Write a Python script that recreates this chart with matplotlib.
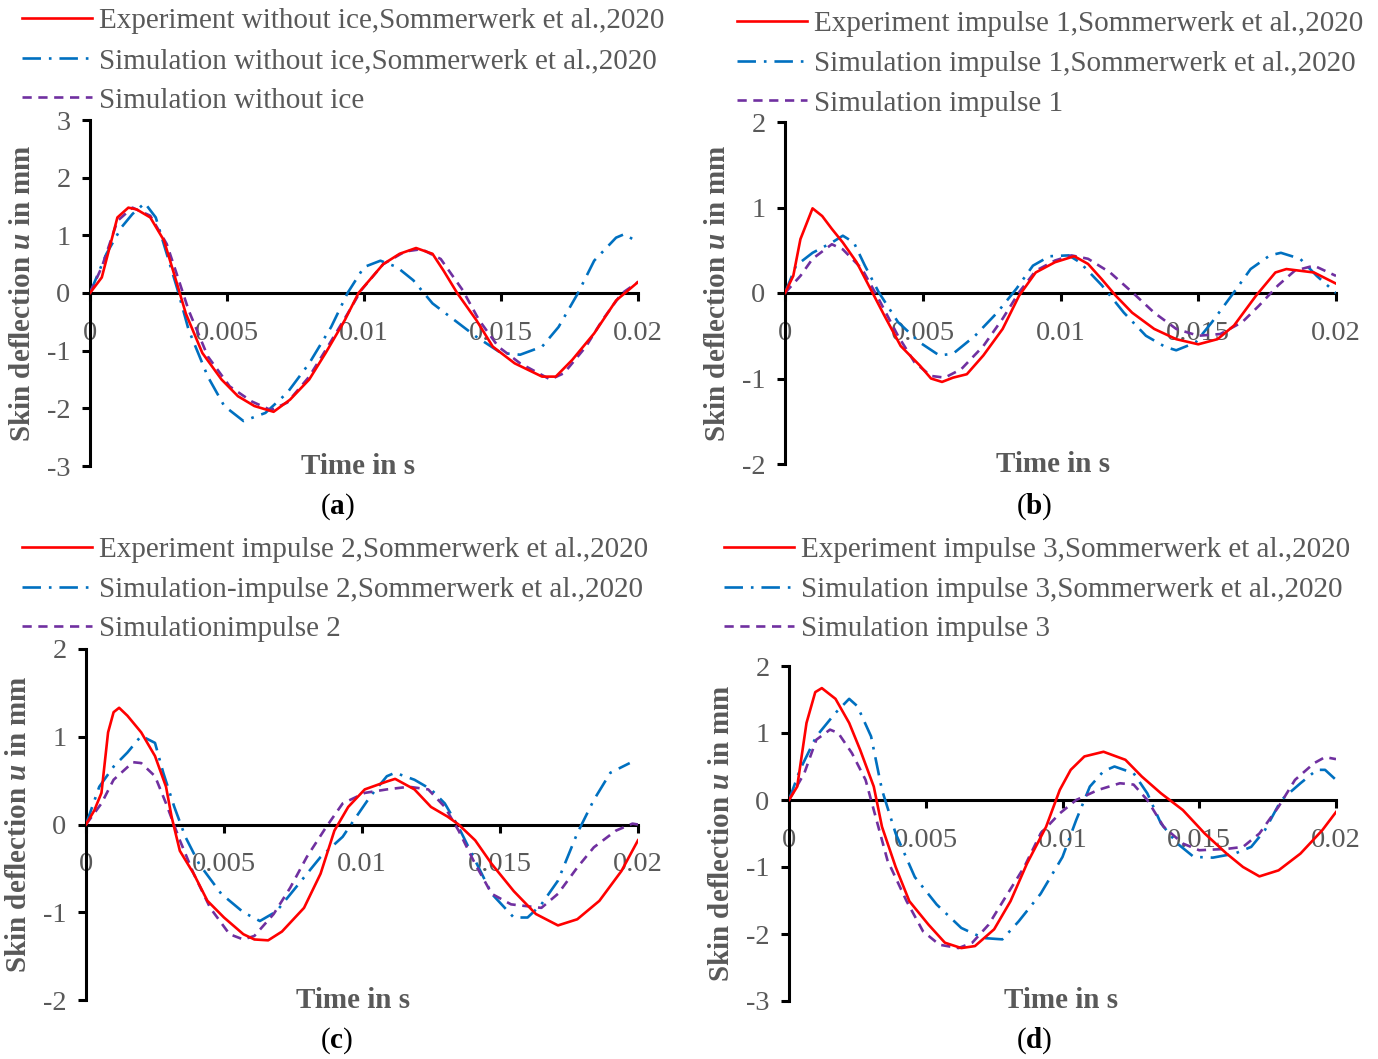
import matplotlib
matplotlib.use("Agg")
import matplotlib.pyplot as plt
from matplotlib.lines import Line2D

plt.rcParams["font.family"] = "Liberation Serif"
plt.rcParams["axes.unicode_minus"] = False
plt.rcParams["mathtext.fontset"] = "custom"
plt.rcParams["mathtext.rm"] = "Liberation Serif"
plt.rcParams["mathtext.it"] = "Liberation Serif:italic:bold"
plt.rcParams["mathtext.bf"] = "Liberation Serif:bold"

# ---- (a) without ice ----
t_a_exp = [0, 0.00043, 0.001, 0.0014, 0.0017, 0.0022, 0.0027, 0.0031, 0.0035, 0.0041, 0.0048, 0.0054,
           0.006, 0.0067, 0.0073, 0.008, 0.0086, 0.0093, 0.0098, 0.0107, 0.0113, 0.0119, 0.0125, 0.0129,
           0.0134, 0.0141, 0.0147, 0.0155, 0.0165, 0.017, 0.0176, 0.0184, 0.0192, 0.02]
u_a_exp = [0, 0.27, 1.31, 1.48, 1.45, 1.31, 0.91, 0.28, -0.36, -1.04, -1.50, -1.79,
           -1.96, -2.06, -1.85, -1.50, -1.04, -0.47, 0, 0.50, 0.68, 0.78, 0.68, 0.39,
           0, -0.47, -0.93, -1.22, -1.45, -1.45, -1.16, -0.70, -0.13, 0.19]
t_a_ref = [0, 0.0006, 0.00115, 0.00155, 0.002, 0.0024, 0.0028, 0.0032, 0.0036, 0.0043, 0.0049, 0.0056,
           0.0064, 0.0072, 0.008, 0.0088, 0.0094, 0.01, 0.0106, 0.0112, 0.0118, 0.0125, 0.0133, 0.0141,
           0.015, 0.0157, 0.0165, 0.0171, 0.0178, 0.0184, 0.0192, 0.0195, 0.02]
u_a_ref = [0, 0.68, 1.14, 1.37, 1.56, 1.31, 0.68, 0.05, -0.64, -1.45, -1.96, -2.22,
           -2.08, -1.73, -1.22, -0.59, 0, 0.45, 0.56, 0.45, 0.22, -0.18, -0.47, -0.76,
           -1.04, -1.07, -0.93, -0.59, -0.01, 0.56, 0.96, 1.02, 0.88]
t_a_sim = [0, 0.00043, 0.001, 0.00155, 0.0022, 0.0028, 0.0032, 0.0036, 0.0043, 0.0051, 0.0059, 0.0066,
           0.0072, 0.008, 0.0086, 0.0094, 0.0099, 0.0107, 0.0115, 0.0121, 0.0128, 0.0136, 0.0142, 0.0149,
           0.0157, 0.0168, 0.0173, 0.0181, 0.0187, 0.0194, 0.02]
u_a_sim = [0, 0.45, 1.25, 1.48, 1.34, 0.85, 0.28, -0.30, -1.10, -1.62, -1.88, -2.03,
           -1.90, -1.45, -0.99, -0.36, 0.05, 0.50, 0.72, 0.76, 0.59, 0.05, -0.47, -0.93,
           -1.22, -1.50, -1.39, -0.93, -0.47, -0.01, 0.19]

# ---- (b) impulse 1 ----
t_b_exp = [0, 0.0003, 0.00056, 0.001, 0.00135, 0.0017, 0.0021, 0.0026, 0.0031, 0.0036, 0.0042, 0.0049,
           0.0053, 0.0057, 0.0061, 0.0066, 0.0072, 0.0079, 0.0085, 0.0091, 0.0098, 0.0105, 0.011, 0.0115,
           0.012, 0.0126, 0.0134, 0.0142, 0.015, 0.0157, 0.0163, 0.0171, 0.0178, 0.0182, 0.0192, 0.02]
u_b_exp = [0, 0.20, 0.63, 0.99, 0.90, 0.75, 0.59, 0.36, 0.05, -0.26, -0.62, -0.85,
           -1.00, -1.04, -0.99, -0.95, -0.73, -0.42, -0.03, 0.24, 0.36, 0.43, 0.34, 0.16,
           -0.03, -0.23, -0.42, -0.54, -0.60, -0.54, -0.38, -0.03, 0.24, 0.28, 0.24, 0.11]
t_b_ref = [0, 0.0004, 0.001, 0.0017, 0.0021, 0.0025, 0.0029, 0.0034, 0.0041, 0.0049, 0.0056, 0.0061,
           0.0069, 0.0077, 0.0084, 0.009, 0.0096, 0.0103, 0.0107, 0.0115, 0.0123, 0.0131, 0.0138, 0.0142,
           0.0149, 0.0155, 0.0163, 0.0169, 0.0176, 0.018, 0.0187, 0.0193, 0.02]
u_b_ref = [0, 0.32, 0.47, 0.59, 0.67, 0.59, 0.32, 0.01, -0.34, -0.58, -0.73, -0.71,
           -0.50, -0.23, 0.05, 0.32, 0.43, 0.44, 0.36, 0.09, -0.23, -0.50, -0.63, -0.67,
           -0.58, -0.34, 0.01, 0.28, 0.44, 0.47, 0.40, 0.20, 0.0]
t_b_sim = [0, 0.00056, 0.001, 0.0017, 0.0021, 0.0028, 0.0034, 0.0041, 0.0047, 0.0053, 0.0058, 0.0064,
           0.0072, 0.0079, 0.0085, 0.0091, 0.0098, 0.0104, 0.011, 0.0118, 0.0126, 0.0134, 0.0142, 0.015,
           0.0158, 0.0166, 0.0172, 0.0179, 0.0185, 0.0192, 0.02]
u_b_sim = [0, 0.20, 0.40, 0.57, 0.51, 0.28, -0.07, -0.50, -0.81, -0.97, -0.99, -0.89,
           -0.62, -0.30, 0.01, 0.26, 0.38, 0.44, 0.40, 0.24, 0.01, -0.23, -0.42, -0.50,
           -0.48, -0.34, -0.15, 0.09, 0.26, 0.32, 0.20]

# ---- (c) impulse 2 ----
t_c_exp = [0, 0.0003, 0.00056, 0.0008, 0.001, 0.0012, 0.0015, 0.002, 0.0025, 0.0029, 0.0031, 0.0034,
           0.0039, 0.0044, 0.005, 0.0057, 0.0061, 0.0066, 0.0071, 0.0079, 0.0085, 0.009, 0.0095, 0.0101,
           0.0109, 0.0112, 0.0119, 0.0125, 0.0131, 0.0135, 0.0141, 0.0147, 0.0155, 0.0163, 0.0171, 0.0178,
           0.0186, 0.0194, 0.02]
u_c_exp = [0, 0.16, 0.36, 1.05, 1.28, 1.33, 1.24, 1.05, 0.78, 0.43, 0.09, -0.30,
           -0.56, -0.87, -1.06, -1.25, -1.31, -1.32, -1.22, -0.95, -0.56, -0.07, 0.20, 0.40,
           0.49, 0.52, 0.40, 0.20, 0.09, 0, -0.18, -0.45, -0.76, -1.02, -1.15, -1.08,
           -0.87, -0.53, -0.18]
t_c_ref = [0, 0.00048, 0.001, 0.0015, 0.002, 0.0025, 0.0028, 0.0032, 0.0036, 0.0041, 0.0049, 0.0057,
           0.0063, 0.0069, 0.0077, 0.0085, 0.0093, 0.0096, 0.0103, 0.0109, 0.0112, 0.0119, 0.0125, 0.013,
           0.0135, 0.0141, 0.0147, 0.0155, 0.016, 0.0165, 0.0171, 0.0178, 0.0184, 0.019, 0.0197]
u_c_ref = [0, 0.43, 0.66, 0.82, 1.01, 0.93, 0.59, 0.20, -0.14, -0.45, -0.79, -1.00,
           -1.10, -0.99, -0.68, -0.37, -0.14, 0, 0.32, 0.55, 0.59, 0.51, 0.40, 0.24,
           -0.03, -0.41, -0.79, -1.06, -1.06, -0.91, -0.64, -0.10, 0.28, 0.59, 0.70]
t_c_sim = [0, 0.00056, 0.001, 0.0017, 0.002, 0.0025, 0.0029, 0.0034, 0.0039, 0.0045, 0.0052, 0.0057,
           0.0061, 0.0068, 0.0074, 0.008, 0.0087, 0.0093, 0.0101, 0.0109, 0.0117, 0.0124, 0.013, 0.0135,
           0.0141, 0.0147, 0.0154, 0.0165, 0.0171, 0.0178, 0.0184, 0.0192, 0.0198, 0.02]
u_c_sim = [0, 0.24, 0.51, 0.71, 0.70, 0.55, 0.24, -0.18, -0.56, -0.95, -1.25, -1.31,
           -1.27, -1.02, -0.72, -0.37, -0.03, 0.24, 0.36, 0.40, 0.43, 0.40, 0.20, -0.07,
           -0.45, -0.79, -0.91, -0.95, -0.79, -0.49, -0.26, -0.07, 0.01, 0]

# ---- (d) impulse 3 ----
t_d_exp = [0, 0.0003, 0.00064, 0.00096, 0.0012, 0.0017, 0.0022, 0.0026, 0.0031, 0.0034, 0.0039, 0.0044,
           0.0051, 0.0057, 0.0063, 0.0068, 0.0075, 0.0081, 0.0087, 0.0094, 0.0099, 0.0103, 0.0108, 0.0115,
           0.0123, 0.0129, 0.0136, 0.0144, 0.0152, 0.016, 0.0166, 0.0172, 0.0179, 0.0187, 0.0195, 0.02]
u_d_exp = [0, 0.20, 1.15, 1.61, 1.67, 1.51, 1.15, 0.75, 0.20, -0.40, -1.00, -1.51,
           -1.86, -2.13, -2.21, -2.18, -1.93, -1.51, -0.95, -0.40, 0.15, 0.45, 0.65, 0.72,
           0.60, 0.35, 0.10, -0.15, -0.50, -0.80, -1.00, -1.14, -1.05, -0.80, -0.45, -0.18]
t_d_ref = [0, 0.0004, 0.001, 0.0017, 0.0022, 0.0025, 0.003, 0.0034, 0.0039, 0.0046, 0.0054, 0.0063,
           0.0071, 0.0078, 0.0084, 0.0092, 0.01, 0.0105, 0.011, 0.0115, 0.0119, 0.0126, 0.0131, 0.0136,
           0.0142, 0.0148, 0.0155, 0.0163, 0.0169, 0.0174, 0.018, 0.0187, 0.0193, 0.0196, 0.02]
u_d_ref = [0, 0.45, 0.95, 1.30, 1.51, 1.40, 0.95, 0.15, -0.50, -1.15, -1.56, -1.91,
           -2.06, -2.08, -1.81, -1.40, -0.85, -0.30, 0.20, 0.43, 0.50, 0.40, 0.10, -0.35,
           -0.65, -0.85, -0.86, -0.80, -0.70, -0.45, 0, 0.25, 0.45, 0.45, 0.30]
t_d_sim = [0, 0.00056, 0.001, 0.0015, 0.0018, 0.0023, 0.0028, 0.0031, 0.0036, 0.0043, 0.0049, 0.0055,
           0.0062, 0.0067, 0.0073, 0.0079, 0.0086, 0.0092, 0.0099, 0.0105, 0.0113, 0.0121, 0.0126, 0.0131,
           0.0137, 0.0144, 0.015, 0.016, 0.0166, 0.0172, 0.0179, 0.0185, 0.0192, 0.0196, 0.02]
u_d_sim = [0, 0.40, 0.90, 1.05, 1.00, 0.70, 0.30, -0.15, -0.90, -1.51, -1.96, -2.16,
           -2.21, -2.13, -1.86, -1.46, -1.00, -0.50, -0.20, 0, 0.15, 0.25, 0.23, 0,
           -0.40, -0.65, -0.75, -0.73, -0.70, -0.50, -0.10, 0.30, 0.55, 0.64, 0.61]

labels_a = ["Experiment without ice,Sommerwerk et al.,2020",
            "Simulation without ice,Sommerwerk et al.,2020",
            "Simulation without ice"]
labels_b = ["Experiment impulse 1,Sommerwerk et al.,2020",
            "Simulation impulse 1,Sommerwerk et al.,2020",
            "Simulation impulse 1"]
labels_c = ["Experiment impulse 2,Sommerwerk et al.,2020",
            "Simulation-impulse 2,Sommerwerk et al.,2020",
            "Simulationimpulse 2"]
labels_d = ["Experiment impulse 3,Sommerwerk et al.,2020",
            "Simulation impulse 3,Sommerwerk et al.,2020",
            "Simulation impulse 3"]

xticks = [0, 0.005, 0.01, 0.015, 0.02]
xticklabels = ["0", "0.005", "0.01", "0.015", "0.02"]

RED = "#FF0000"
BLUE = "#0070C0"
PURPLE = "#7030A0"
GREY = "#595959"
FS = 20.5
LEG_FS = 21

fig = plt.figure(figsize=(13.78, 10.59), dpi=100)


def panel(rect, exp, ref, sim, ylim, labels, leg_xy, tag, tag_xy, xlab_x):
    ax = fig.add_axes(rect)
    ax.plot(exp[0], exp[1], color=RED, lw=1.9, zorder=4)
    lr, = ax.plot(ref[0], ref[1], color=BLUE, lw=1.9, zorder=3)
    lr.set_dashes([7, 3, 1, 3])
    ls, = ax.plot(sim[0], sim[1], color=PURPLE, lw=1.9, zorder=3)
    ls.set_dashes([3.5, 2.5])

    ax.set_xlim(0, 0.02)
    ax.set_ylim(*ylim)
    ax.set_xticks(xticks)
    ax.set_xticklabels(xticklabels)
    ax.set_yticks(range(ylim[0], ylim[1] + 1))
    ax.spines["top"].set_visible(False)
    ax.spines["right"].set_visible(False)
    ax.spines["bottom"].set_position(("data", 0))
    for s in ("left", "bottom"):
        ax.spines[s].set_linewidth(2.2)
        ax.spines[s].set_zorder(2)
    ax.tick_params(axis="both", direction="out", length=6, width=2.2,
                   labelsize=FS, labelcolor=GREY)
    ax.tick_params(axis="x", pad=14)
    ax.tick_params(axis="y", pad=8)
    ax.patch.set_alpha(0)

    ax.set_ylabel(r"Skin deflection $u$ in mm", fontsize=LEG_FS, fontweight="bold", color=GREY)
    ax.yaxis.set_label_coords(-0.098, 0.5)
    ax.text(xlab_x, 0.0, "Time in s", transform=ax.transAxes, ha="center", va="center",
            fontsize=LEG_FS, fontweight="bold", color=GREY)

    h_exp = Line2D([], [], color=RED, lw=1.9)
    h_ref = Line2D([], [], color=BLUE, lw=1.9, dashes=[7, 3, 1, 3])
    h_sim = Line2D([], [], color=PURPLE, lw=1.9, dashes=[3.5, 2.5])
    fig.legend([h_exp, h_ref, h_sim], labels, loc="upper left", bbox_to_anchor=leg_xy,
               frameon=False, fontsize=LEG_FS, labelcolor=GREY, handlelength=2.4,
               handletextpad=0.25, labelspacing=0.45, borderpad=0, borderaxespad=0)

    fig.text(tag_xy[0], tag_xy[1], r"($\mathbf{%s}$)" % tag, ha="center", va="center",
             fontsize=LEG_FS, color="black")
    return ax


W, H = 1378, 1059


def rect(x0, x1, ytop, ybot):
    return [x0 / W, 1 - ybot / H, (x1 - x0) / W, (ybot - ytop) / H]


panel(rect(90, 638, 120, 466), (t_a_exp, u_a_exp), (t_a_ref, u_a_ref), (t_a_sim, u_a_sim),
      (-3, 3), labels_a, (22 / W, 1 - 8 / H), "a", (337 / W, 1 - 507 / H), 0.489)
panel(rect(785, 1336, 122, 464), (t_b_exp, u_b_exp), (t_b_ref, u_b_ref), (t_b_sim, u_b_sim),
      (-2, 2), labels_b, (737 / W, 1 - 11 / H), "b", (1034 / W, 1 - 507 / H), 0.486)
panel(rect(86, 638, 649, 1000), (t_c_exp, u_c_exp), (t_c_ref, u_c_ref), (t_c_sim, u_c_sim),
      (-2, 2), labels_c, (22 / W, 1 - 537 / H), "c", (337 / W, 1 - 1041 / H), 0.484)
panel(rect(789, 1336, 666, 1001), (t_d_exp, u_d_exp), (t_d_ref, u_d_ref), (t_d_sim, u_d_sim),
      (-3, 2), labels_d, (724 / W, 1 - 537 / H), "d", (1034 / W, 1 - 1041 / H), 0.497)

fig.savefig("out.png", dpi=100)
